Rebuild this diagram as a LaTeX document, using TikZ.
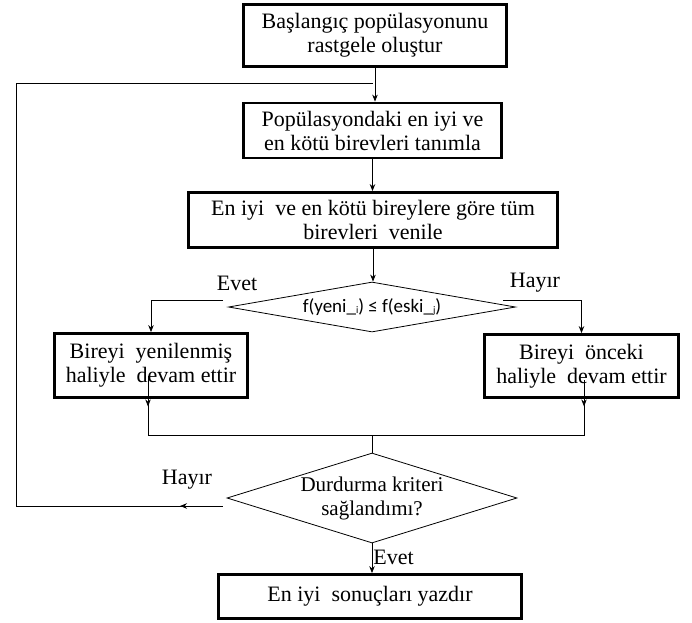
\documentclass[tikz,border=0pt]{standalone}
\usepackage{fontspec}
\setmainfont{Liberation Serif}
\newfontfamily\calib{Carlito}
\usetikzlibrary{shapes.geometric,arrows.meta}
\begin{document}
\begin{tikzpicture}[x=1pt,y=-1pt,
  box/.style={draw, line width=2.8pt, align=center, font=\fontsize{22}{24}\selectfont, inner sep=0pt},
  dia/.style={draw, line width=0.8pt, diamond, inner sep=0pt, align=center},
  conn/.style={line width=0.8pt},
  arr/.style={conn, -{Stealth[length=7pt,width=5.5pt]}},
  lbl/.style={font=\fontsize{22}{24}\selectfont, inner sep=0pt}
]
\useasboundingbox (0,0) rectangle (692,622);

\node[box, minimum width=263, minimum height=62] (b1) at (375,35.5) {Başlangıç popülasyonunu\\rastgele oluştur};
\node[box, minimum width=258, minimum height=55] (b2) at (372.5,130.5) {Popülasyondaki en iyi ve\\en kötü birevleri tanımla};
\node[box, minimum width=369, minimum height=55] (b3) at (373,220) {En iyi \ ve en kötü bireylere göre tüm\\birevleri \ venile};
\node[dia, aspect=5.74, minimum width=287, minimum height=50] (d1) at (372,307)
  {\calib\fontsize{19}{21}\selectfont f(yeni\_\raisebox{-1pt}{\fontsize{10}{10}\selectfont i}) ≤ f(eski\_\raisebox{-1pt}{\fontsize{10}{10}\selectfont j})};
\node[box, minimum width=193, minimum height=64] (b4) at (151,365.5) {Bireyi \ yenilenmiş\\haliyle \ devam ettir};
\node[box, minimum width=194, minimum height=63] (b5) at (581.5,366) {Bireyi \ önceki\\haliyle \ devam ettir};
\node[dia, aspect=3.2, minimum width=290, minimum height=90, font=\fontsize{21}{24}\selectfont] (d2) at (372,498) {Durdurma kriteri\\sağlandımı?};
\node[box, minimum width=303, minimum height=44] (b6) at (370,596.5) {En iyi \ sonuçları yazdır};

\node[lbl] (le1) at (237,283) {Evet};
\node[lbl] (lh1) at (535,283) {Hayır};
\node[lbl] (lh2) at (187,480) {Hayır};
\node[lbl] (le2) at (393.5,557) {Evet};

\coordinate (j) at (373,83);
\coordinate (c1) at (16,506);
\coordinate (h) at (180,506);
\coordinate (m1) at (148,435);
\coordinate (m2) at (584,435);
\coordinate (m0) at (372,435);

\draw[arr] (b1.south) -- (b1.south |- b2.north);
\draw[arr] (b2.south) -- (b2.south |- b3.north);
\draw[arr] (b3.south) -- (b3.south |- d1.north);

\draw[arr] ([xshift=-5pt,yshift=7pt]d1.west) -| (b4.north);
\draw[arr] ([xshift=-13pt,yshift=7pt]d1.east) -| (b5.north);

\draw[conn] ([xshift=-3pt,yshift=-10pt]b4.center) -- (m1) -- (m2) -- ([xshift=2.5pt,yshift=-14pt]b5.center);
\draw[arr] ([xshift=-3pt,yshift=-10pt]b4.center) -- ([xshift=-3pt,yshift=-7.5pt]b4.south);
\draw[arr] ([xshift=2.5pt,yshift=-14pt]b5.center) -- ([xshift=2.5pt,yshift=-7.5pt]b5.south);
\draw[conn] (m0) -- (d2.north);

\draw[conn] ([xshift=-4pt,yshift=-8pt]d2.west) -- (c1) |- (j);
\draw[arr] ([xshift=-4pt,yshift=-8pt]d2.west) -- (h);

\draw[arr] (d2.south) -- (d2.south |- b6.north);
\end{tikzpicture}
\end{document}
